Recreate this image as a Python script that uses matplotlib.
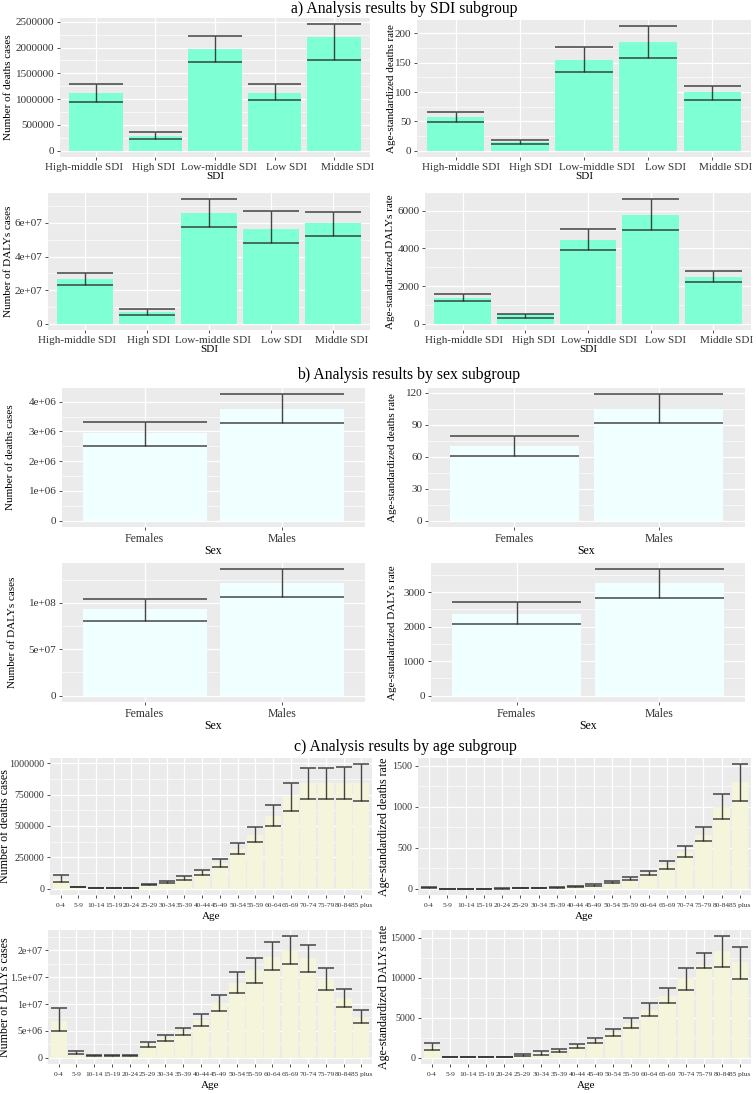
import numpy as np
import matplotlib
matplotlib.use("Agg")
import matplotlib.pyplot as plt
import matplotlib.transforms as mtransforms
from matplotlib.ticker import FixedLocator, MultipleLocator

plt.rcParams['font.family'] = ['Liberation Serif', 'DejaVu Serif']

W, H = 756, 1094

# a) SDI subgroup
sdi_groups = ["High-middle SDI", "High SDI", "Low-middle SDI", "Low SDI", "Middle SDI"]
sdi_deaths = [1120000, 290000, 1970000, 1120000, 2200000]
sdi_deaths_up = [1290000, 370000, 2230000, 1300000, 2450000]
sdi_deaths_lo = [950000, 220000, 1720000, 975000, 1750000]
sdi_drate = [58, 15.8, 155, 185.4, 99.7]
sdi_drate_up = [65.4, 18.6, 177.5, 212.4, 111]
sdi_drate_lo = [49, 11.8, 135, 158.3, 86.8]
sdi_daly = [2.69e7, 0.69e7, 6.59e7, 5.64e7, 5.98e7]
sdi_daly_up = [3.03e7, 0.85e7, 7.41e7, 6.73e7, 6.65e7]
sdi_daly_lo = [2.28e7, 0.51e7, 5.78e7, 4.78e7, 5.23e7]
sdi_darate = [1368, 500, 4474, 5772, 2474]
sdi_darate_up = [1561, 545, 5035, 6614, 2789]
sdi_darate_lo = [1193, 300, 3912, 5000, 2228]

# b) sex subgroup
sexes = ["Females", "Males"]
sex_deaths = [2.94e6, 3.74e6]
sex_deaths_up = [3.32e6, 4.25e6]
sex_deaths_lo = [2.51e6, 3.30e6]
sex_drate = [69.7, 105]
sex_drate_up = [79.7, 118.7]
sex_drate_lo = [60.3, 92.2]
sex_daly = [9.28e7, 1.216e8]
sex_daly_up = [1.036e8, 1.36e8]
sex_daly_lo = [8.09e7, 1.058e8]
sex_darate = [2366, 3252]
sex_darate_up = [2707, 3661]
sex_darate_lo = [2064, 2843]

# c) age subgroup
ages = ["0-4", "5-9", "10-14", "15-19", "20-24", "25-29", "30-34", "35-39", "40-44",
        "45-49", "50-54", "55-59", "60-64", "65-69", "70-74", "75-79", "80-84", "85 plus"]
age_deaths = [75000, 15000, 4000, 3500, 4000, 33000, 55000, 85000, 132000, 205000,
              320000, 432000, 579000, 740000, 840000, 840000, 845000, 845000]
age_deaths_up = [110000, 18000, 5000, 4500, 5000, 40000, 64000, 99000, 153000, 239000,
                 362000, 496000, 665000, 845000, 960000, 960000, 973000, 992000]
age_deaths_lo = [53600, 13000, 3000, 2500, 3000, 27000, 45600, 72000, 113000, 177000,
                 279000, 370000, 501000, 622000, 718000, 718000, 718000, 697000]
age_drate = [14, 2, 1.5, 2, 3, 5, 7, 15, 30, 47, 77, 117, 188, 290, 451, 656, 1000, 1295]
age_drate_up = [20, 3, 2, 3, 4, 6, 9, 20, 37, 57, 90, 139, 213, 332, 516, 750, 1152, 1516]
age_drate_lo = [8, 1.5, 1, 1.5, 2, 4, 6, 12, 25, 37, 66, 102, 164, 246, 389, 578, 852, 1070]
age_daly = [6.87e6, 0.98e6, 0.45e6, 0.4e6, 0.42e6, 2.5e6, 3.7e6, 4.9e6, 7.0e6, 10.1e6,
            13.9e6, 16.3e6, 18.7e6, 20.0e6, 18.5e6, 14.6e6, 11.2e6, 7.6e6]
age_daly_up = [9.33e6, 1.23e6, 0.55e6, 0.5e6, 0.5e6, 2.94e6, 4.29e6, 5.64e6, 8.1e6, 11.6e6,
               16.0e6, 18.6e6, 21.5e6, 22.6e6, 21.0e6, 16.6e6, 12.8e6, 8.8e6]
age_daly_lo = [4.9e6, 0.74e6, 0.31e6, 0.33e6, 0.34e6, 2.09e6, 3.19e6, 4.23e6, 6.0e6, 8.65e6,
               12.1e6, 13.9e6, 16.3e6, 17.5e6, 15.9e6, 12.6e6, 9.5e6, 6.4e6]
age_darate = [1400, 130, 90, 90, 95, 370, 600, 900, 1480, 2130, 3180, 4410, 6018, 7708,
              9934, 11624, 13314, 12036]
age_darate_up = [1813, 150, 110, 110, 115, 495, 824, 1113, 1690, 2432, 3627, 4988, 6884,
                 8780, 11253, 13149, 15210, 13890]
age_darate_lo = [989, 100, 70, 70, 75, 247, 371, 700, 1278, 1855, 2762, 3792, 5235, 6800,
                 8533, 11253, 11336, 9893]

fig = plt.figure(figsize=(W / 100, H / 100), dpi=100)


def panel(rect, ylab_x, cats, mean, lo, up, color, ylabel, xlabel, yticks, yticklabels,
          xfs=8, xlfs=8, ylfs=8, yfs=8, xpad=1.5, xlpad=0, shifts=None):
    l, t, r, b = rect
    ax = fig.add_axes([l / W, 1 - b / H, (r - l) / W, (b - t) / H])
    x = np.arange(len(cats))
    ax.set_facecolor('#EBEBEB')
    for s in ax.spines.values():
        s.set_visible(False)
    ax.bar(x, mean, width=0.9, color=color, zorder=2)
    ax.vlines(x, lo, up, color='#262626', lw=1.0, alpha=0.85, zorder=3)
    ax.hlines(up, x - 0.45, x + 0.45, color='#262626', lw=1.1, alpha=0.85, zorder=3)
    ax.hlines(lo, x - 0.45, x + 0.45, color='#262626', lw=1.1, alpha=0.85, zorder=3)
    top = max(up)
    ax.set_ylim(-0.05 * top, 1.05 * top)
    ax.set_xlim(-0.6, len(cats) - 0.4)
    ax.set_xticks(x)
    ax.set_xticklabels(cats, fontsize=xfs, color='#333333')
    ax.yaxis.set_major_locator(FixedLocator(yticks))
    ax.set_yticklabels(yticklabels, fontsize=yfs, color='#333333')
    ax.yaxis.set_minor_locator(MultipleLocator((yticks[1] - yticks[0]) / 2))
    ax.set_axisbelow(True)
    ax.grid(True, which='major', color='white', lw=0.9)
    ax.grid(True, which='minor', axis='y', color='white', lw=0.45)
    ax.tick_params(which='major', length=2.5, width=0.6, color='#333333', pad=1.5)
    ax.tick_params(axis='x', which='major', pad=xpad)
    ax.tick_params(which='minor', length=0)
    ax.set_ylabel(ylabel, fontsize=ylfs)
    ax.yaxis.set_label_coords((ylab_x - l) / (r - l), 0.5)
    ax.set_xlabel(xlabel, fontsize=xlfs, labelpad=xlpad)
    if shifts is not None:
        # labels in the original figure sit a little off their ticks
        for lab, dx in zip(ax.get_xticklabels(), shifts):
            off = mtransforms.ScaledTranslation(dx / 100, 0, fig.dpi_scale_trans)
            lab.set_transform(lab.get_transform() + off)
    return ax


# a) SDI
panel((60, 18, 370, 157), 13, sdi_groups, sdi_deaths, sdi_deaths_lo, sdi_deaths_up,
      '#7FFFD4', "Number of deaths cases", "SDI",
      [0, 500000, 1000000, 1500000, 2000000, 2500000],
      ["0", "500000", "1000000", "1500000", "2000000", "2500000"],
      shifts=[-12, -2, 4, 12, 13])
panel((417, 20, 751, 157), 396, sdi_groups, sdi_drate, sdi_drate_lo, sdi_drate_up,
      '#7FFFD4', "Age-standardized deaths rate", "SDI",
      [0, 50, 100, 150, 200], ["0", "50", "100", "150", "200"],
      shifts=[5, 11, 13, 17, 13])
panel((48, 193, 370, 330), 13, sdi_groups, sdi_daly, sdi_daly_lo, sdi_daly_up,
      '#7FFFD4', "Number of DALYs cases", "SDI",
      [0, 2e7, 4e7, 6e7], ["0", "2e+07", "4e+07", "6e+07"],
      shifts=[-8, 1, 4, 11, 9])
panel((425, 193, 751, 330), 395, sdi_groups, sdi_darate, sdi_darate_lo, sdi_darate_up,
      '#7FFFD4', "Age-standardized DALYs rate", "SDI",
      [0, 2000, 4000, 6000], ["0", "2000", "4000", "6000"],
      shifts=[1, 8, 11, 15, 13])

# b) sex
panel((62, 388, 365, 527), 15, sexes, sex_deaths, sex_deaths_lo, sex_deaths_up,
      '#F0FFFF', "Number of deaths cases", "Sex",
      [0, 1e6, 2e6, 3e6, 4e6], ["0", "1e+06", "2e+06", "3e+06", "4e+06"],
      xfs=8.5, xlfs=8.5)
panel((428, 388, 745, 527), 397, sexes, sex_drate, sex_drate_lo, sex_drate_up,
      '#F0FFFF', "Age-standardized deaths rate", "Sex",
      [0, 30, 60, 90, 120], ["0", "30", "60", "90", "120"], xfs=8.5, xlfs=8.5)
panel((62, 563, 365, 702), 17, sexes, sex_daly, sex_daly_lo, sex_daly_up,
      '#F0FFFF', "Number of DALYs cases", "Sex",
      [0, 5e7, 1e8], ["0", "5e+07", "1e+08"], xfs=8.5, xlfs=8.5)
panel((431, 563, 745, 702), 397, sexes, sex_darate, sex_darate_lo, sex_darate_up,
      '#F0FFFF', "Age-standardized DALYs rate", "Sex",
      [0, 1000, 2000, 3000], ["0", "1000", "2000", "3000"], xfs=8.5, xlfs=8.5)

# c) age
panel((50, 758, 372, 895), 11, ages, age_deaths, age_deaths_lo, age_deaths_up,
      '#F5F5DC', "Number of deaths cases", "Age",
      [0, 250000, 500000, 750000, 1000000],
      ["0", "250000", "500000", "750000", "1000000"],
      xfs=5.3, ylfs=8.6, yfs=7.2, xpad=3, xlpad=3)
panel((418, 758, 751, 895), 390, ages, age_drate, age_drate_lo, age_drate_up,
      '#F5F5DC', "Age-standardized deaths rate", "Age",
      [0, 500, 1000, 1500], ["0", "500", "1000", "1500"],
      xfs=5.3, ylfs=8.6, yfs=7.2, xpad=3, xlpad=3)
panel((48, 930, 372, 1064), 11, ages, age_daly, age_daly_lo, age_daly_up,
      '#F5F5DC', "Number of DALYs cases", "Age",
      [0, 5e6, 1e7, 1.5e7, 2e7], ["0", "5e+06", "1e+07", "1.5e+07", "2e+07"],
      xfs=5.3, ylfs=8.6, yfs=7.2, xpad=3, xlpad=3)
panel((421, 930, 751, 1064), 390, ages, age_darate, age_darate_lo, age_darate_up,
      '#F5F5DC', "Age-standardized DALYs rate", "Age",
      [0, 5000, 10000, 15000], ["0", "5000", "10000", "15000"],
      xfs=5.3, ylfs=8.6, yfs=7.2, xpad=3, xlpad=3)

# section titles
fig.text(404 / W, 1 - 9 / H, "a) Analysis results by SDI subgroup", ha='center', va='center',
         fontsize=11.3)
fig.text(409 / W, 1 - 375 / H, "b) Analysis results by sex subgroup", ha='center', va='center',
         fontsize=11.3)
fig.text(405 / W, 1 - 747 / H, "c) Analysis results by age subgroup", ha='center', va='center',
         fontsize=11.3)

fig.savefig("out.png", dpi=100)
